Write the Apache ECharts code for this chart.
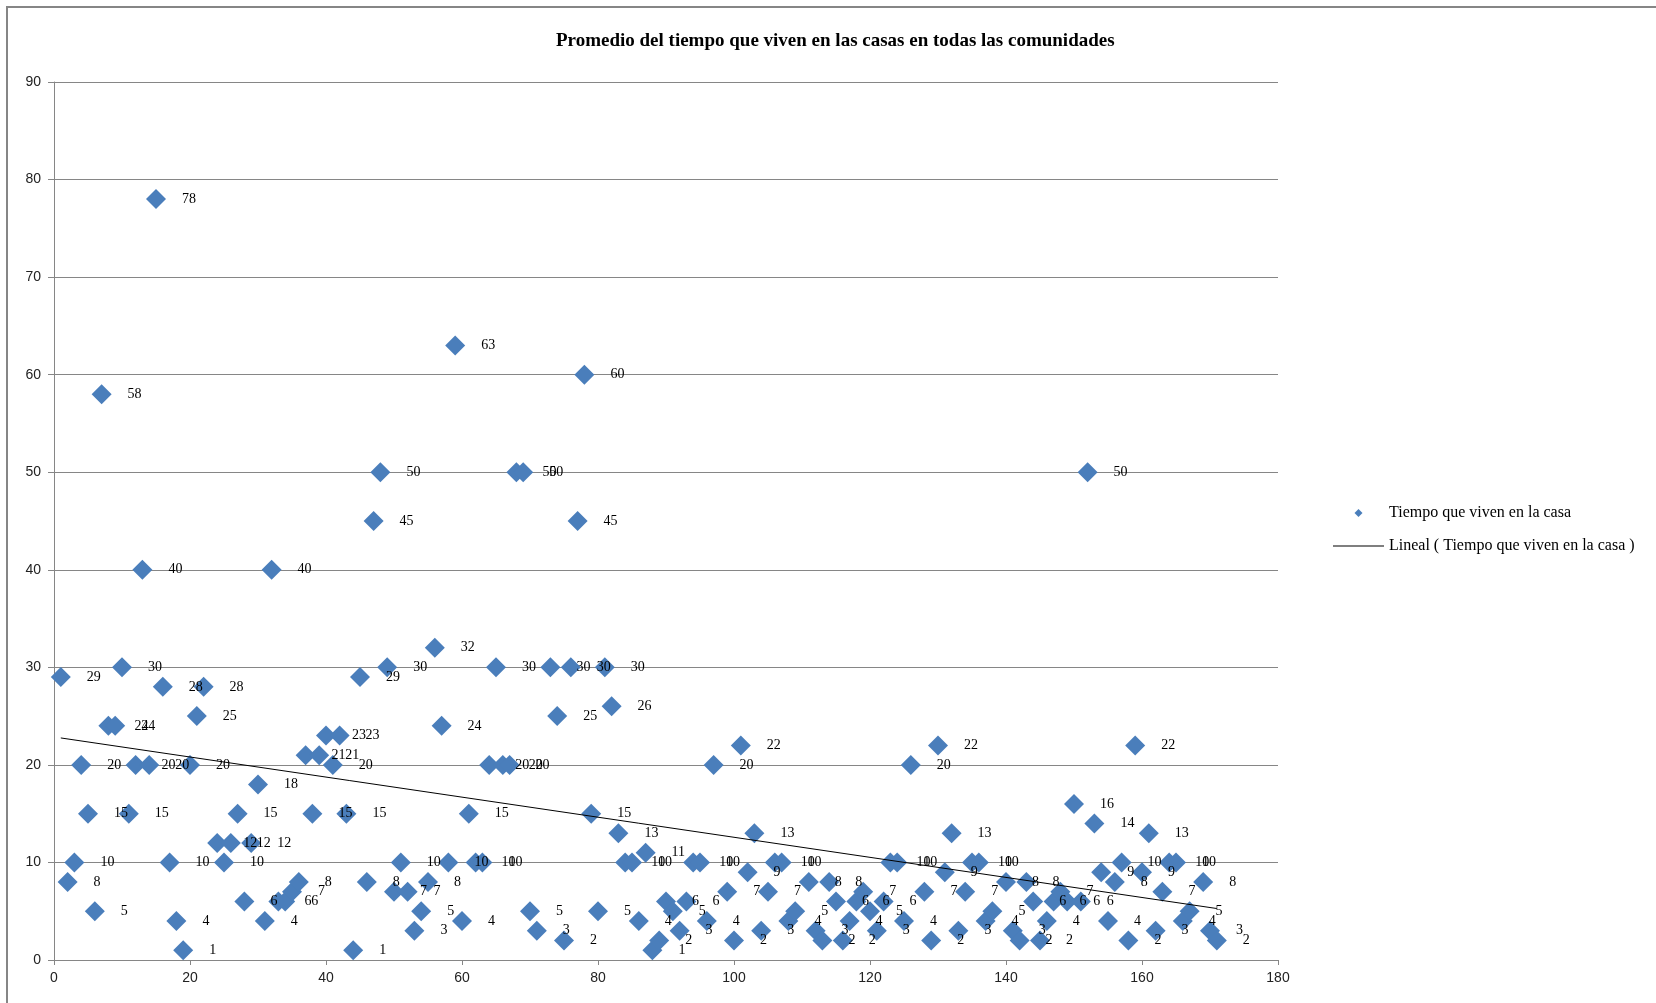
<!DOCTYPE html>
<html>
<head>
<meta charset="utf-8">
<script src="https://cdn.jsdelivr.net/npm/echarts@6/dist/echarts.min.js"></script>
<style>
html,body{margin:0;padding:0;background:#fff;}
#chart{width:1656px;height:1003px;}
</style>
</head>
<body>
<div id="chart"></div>
<script>
// Index of each house (x) and years lived in the house (y)
const casaIndex = [1,2,3,4,5,6,7,8,9,10,11,12,13,14,15,16,17,18,19,20,21,22,24,25,26,27,28,29,30,31,32,33,34,35,36,37,38,39,40,41,42,43,44,45,46,47,48,49,50,51,52,53,54,55,56,57,58,59,60,61,62,63,64,65,66,67,68,69,70,71,73,74,75,76,77,78,79,80,81,82,83,84,85,86,87,88,89,90,91,92,93,94,95,96,97,99,100,101,102,103,104,105,106,107,108,109,111,112,113,114,115,116,117,118,119,120,121,122,123,124,125,126,128,129,130,131,132,133,134,135,136,137,138,140,141,142,143,144,145,146,147,148,149,150,151,152,153,154,155,156,157,158,159,160,161,162,163,164,165,166,167,169,170,171];
const tiempoVivenCasa = [29,8,10,20,15,5,58,24,24,30,15,20,40,20,78,28,10,4,1,20,25,28,12,10,12,15,6,12,18,4,40,6,6,7,8,21,15,21,23,20,23,15,1,29,8,45,50,30,7,10,7,3,5,8,32,24,10,63,4,15,10,10,20,30,20,20,50,50,5,3,30,25,2,30,45,60,15,5,30,26,13,10,10,4,11,1,2,6,5,3,6,10,10,4,20,7,2,22,9,13,3,7,10,10,4,5,8,3,2,8,6,2,4,6,7,5,3,6,10,10,4,20,7,2,22,9,13,3,7,10,10,4,5,8,3,2,8,6,2,4,6,7,6,16,6,50,14,9,4,8,10,2,22,9,13,3,7,10,10,4,5,8,3,2];
const xTicks = [0,20,40,60,80,100,120,140,160,180];
const yTicks = [0,10,20,30,40,50,60,70,80,90];

const titulo = 'Promedio del tiempo que viven en las casas en todas las comunidades';
const serieNombre = 'Tiempo que viven en la casa';
const tendenciaNombre = 'Lineal ( Tiempo que viven en la casa )';

const puntos = casaIndex.map((x, i) => [x, tiempoVivenCasa[i]]);

// least-squares linear trend from the data
const n = puntos.length;
let sx = 0, sy = 0, sxx = 0, sxy = 0;
puntos.forEach(p => { sx += p[0]; sy += p[1]; sxx += p[0]*p[0]; sxy += p[0]*p[1]; });
const pendiente = (n*sxy - sx*sy) / (n*sxx - sx*sx);
const intercepto = (sy - pendiente*sx) / n;
const xMin = Math.min(...casaIndex), xMax = Math.max(...casaIndex);
const tendencia = [[xMin, intercepto + pendiente*xMin], [xMax, intercepto + pendiente*xMax]];

const axisColor = '#868686';
const azul = '#4A7EBB';
const chart = echarts.init(document.getElementById('chart'), null, {renderer: 'canvas'});
chart.setOption({
  animation: false,
  backgroundColor: '#fff',
  title: {
    text: titulo,
    left: 551,
    top: 27,
    textStyle: {fontFamily: 'Liberation Serif', fontWeight: 'bold', fontSize: 19, color: '#000'}
  },
  graphic: [{
    type: 'rect',
    shape: {x: 7, y: 7, width: 1700, height: 1100},
    style: {fill: 'none', stroke: axisColor, lineWidth: 2},
    silent: true
  }],
  legend: {
    orient: 'vertical',
    left: 1328,
    top: 500,
    itemWidth: 51,
    itemHeight: 8,
    itemGap: 17,
    symbolKeepAspect: true,
    textStyle: {fontFamily: 'Liberation Serif', fontSize: 16, color: '#000'},
    data: [
      {name: serieNombre, icon: 'path://M0,-1 L1,0 L0,1 L-1,0 Z', itemStyle: {color: azul, opacity: 1}},
      {name: tendenciaNombre, icon: 'path://M0,0 L51,0 L51,1.2 L0,1.2 Z', itemStyle: {color: '#000', opacity: 1}}
    ]
  },
  grid: {left: 54, top: 82, right: 378, bottom: 43, containLabel: false},
  xAxis: {
    type: 'value',
    min: xTicks[0],
    max: xTicks[xTicks.length - 1],
    interval: xTicks[1] - xTicks[0],
    axisLine: {show: true, lineStyle: {color: axisColor, width: 1}},
    axisTick: {show: true, length: 5, lineStyle: {color: axisColor}},
    splitLine: {show: false},
    axisLabel: {margin: 11, fontFamily: 'Liberation Sans', fontSize: 14, color: '#222'}
  },
  yAxis: {
    type: 'value',
    min: yTicks[0],
    max: yTicks[yTicks.length - 1],
    interval: yTicks[1] - yTicks[0],
    axisLine: {show: true, lineStyle: {color: axisColor, width: 1}},
    axisTick: {show: true, length: 6, lineStyle: {color: axisColor}},
    splitLine: {show: true, lineStyle: {color: axisColor, width: 1}},
    axisLabel: {margin: 13, fontFamily: 'Liberation Sans', fontSize: 14, color: '#222'}
  },
  series: [
    {
      name: serieNombre,
      type: 'scatter',
      symbol: 'diamond',
      symbolSize: 20,
      itemStyle: {color: azul, opacity: 1},
      label: {
        show: true,
        position: 'right',
        distance: 16,
        formatter: p => String(p.value[1]),
        fontFamily: 'Liberation Serif',
        fontSize: 14,
        color: '#000'
      },
      data: puntos,
      z: 2
    },
    {
      name: tendenciaNombre,
      type: 'line',
      symbol: 'none',
      lineStyle: {color: '#000', width: 1},
      itemStyle: {color: '#000'},
      data: tendencia,
      z: 3,
      silent: true
    }
  ]
});
</script>
</body>
</html>
